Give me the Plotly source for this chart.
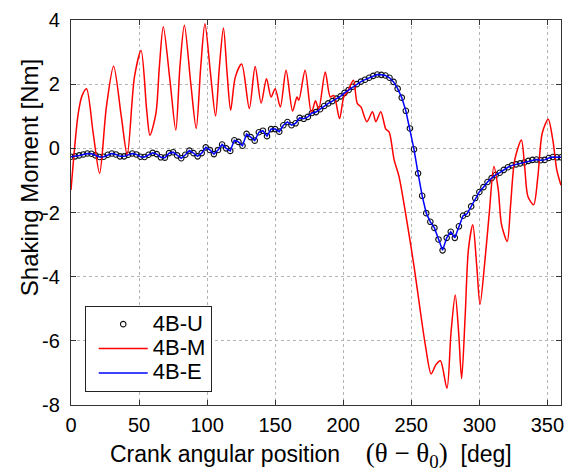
import plotly.graph_objects as go

# ---- data ----
# 4B-M (red): angle [deg], shaking moment [Nm]
m_deg = [0, 5.3, 8.2, 11.4, 16.3, 21, 26, 31.3, 37, 41.3, 46.6, 51.5, 55.6, 58, 62.4, 64.9, 67.8,
         72.7, 77, 80, 83.3, 88, 92, 95.3, 98.4, 102.5, 106.2, 109, 112, 114.7, 117.3, 120.7, 125.4,
         131, 135.3, 139.7, 143.6, 147, 150, 153.8, 158, 162.8, 166, 167.4, 172, 176.6, 179.6, 182,
         186.8, 190.5, 193.1, 197.3, 200.4, 203, 207.5, 210.3, 213, 217.4, 221.5, 224, 227.6, 231.3,
         233.7, 237.4, 241, 247, 252, 256.8, 260.4, 264.6, 268, 271.4, 276.2, 279.2, 282.3, 284.8,
         287, 289.6, 292, 295.2, 298.1, 300.5, 304.2, 307.3, 310.7, 313.9, 316.3, 320.5, 322.9, 326,
         330.9, 333.3, 335.7, 339.9, 343, 346.2, 350.6, 354, 356.9, 360]
m_val = [-1.3, 1.08, 1.65, 1.86, 0.47, -0.78, 1.29, 2.56, 0.98, -0.21, 2.22, 3.05, 1.19, 0.41, 1.09, 2.53, 3.79,
         2.12, 0.57, 2.53, 3.84, 2.02, 0.62, 2.53, 3.88, 2.33, 1.01, 2.53, 3.75, 2.33, 1.19, 2.22, 2.63,
         1.24, 2.55, 1.41, 2.17, 1.6, 1.86, 1.29, 2.43, 1.16, 1.6, 1.5, 2.43, 1.09, 1.48, 1.22,
         2.38, 1.6, 1.65, 0.93, 1.6, 1.75, 2.12, 1.4, 1.29, 0.83, 1.14, 0.83, 1.14, 0.6,
         0.51, -0.36, -0.88, -2.33, -3.67, -5.12, -6.15, -7.03, -6.75, -6.62, -7.48, -5.74, -4.57, -5.74,
         -7.18, -5.22, -3.15, -2.38, -3.67, -4.86, -3.46, -2.02, -0.57, -1.29, -2.38, -2.9, -1.81, -0.36,
         0.26, -0.57, -1.5, -1.76, -0.88, 0.47, 0.91, 0.26, -0.67, -1.15]

# 4B-U (markers) and 4B-E (blue): sampled every 3 deg
u_deg = list(range(0, 361, 3))
u_val = [-0.26, -0.25, -0.22, -0.19, -0.16, -0.17, -0.22, -0.27, -0.26, -0.2, -0.16, -0.19, -0.25,
         -0.25, -0.2, -0.16, -0.19, -0.26, -0.27, -0.2, -0.14, -0.18, -0.28, -0.29, -0.15, -0.12,
         -0.22, -0.31, -0.2, -0.07, -0.15, -0.25, -0.15, 0.03, -0.05, -0.18, -0.05, 0.12, 0.0,
         -0.08, 0.25, 0.2, 0.08, 0.45, 0.35, 0.24, 0.5, 0.55, 0.38, 0.6, 0.6, 0.52, 0.72, 0.82,
         0.72, 0.78, 0.95, 0.92, 0.98, 1.1, 1.13, 1.22, 1.32, 1.4, 1.47, 1.55, 1.62, 1.73, 1.82,
         1.92, 2.0, 2.08, 2.14, 2.2, 2.26, 2.3, 2.29, 2.27, 2.2, 2.07, 1.86, 1.58, 1.17, 0.62,
         -0.03, -0.78, -1.48, -2.02, -2.29, -2.48, -2.84, -3.18, -2.79, -2.6, -2.79, -2.43, -2.1,
         -2.04, -1.81, -1.55, -1.36, -1.21, -1.05, -0.93, -0.83, -0.76, -0.67, -0.59, -0.53, -0.5,
         -0.47, -0.44, -0.39, -0.36, -0.35, -0.37, -0.36, -0.3, -0.27, -0.28, -0.28]
e_deg = u_deg
e_val = list(u_val)

x_ticks = [0, 50, 100, 150, 200, 250, 300, 350]
y_ticks = [-8, -6, -4, -2, 0, 2, 4]
y_ticklabels = ["-8", "-6", "-4", "-2", "0", "2", "4"]
legend_names = ["4B-U", "4B-M", "4B-E"]

FONT = "Liberation Sans, Arial, sans-serif"
SERIF = "Liberation Serif, Times New Roman, serif"
NB = "\u00a0"


def leg(name):
    return "<span style='font-size:22px'>" + name + "</span>"


fig = go.Figure()
fig.add_trace(go.Scatter(x=u_deg, y=u_val, mode="markers", name=leg(legend_names[0]),
                         marker=dict(symbol="circle-open", size=5.5, color="#111111",
                                     line=dict(width=1.1, color="#111111"))))
fig.add_trace(go.Scatter(x=m_deg, y=m_val, mode="lines", name=leg(legend_names[1]),
                         line=dict(color="#ff0000", width=1.5, shape="spline", smoothing=0.8)))
fig.add_trace(go.Scatter(x=e_deg, y=e_val, mode="lines", name=leg(legend_names[2]),
                         line=dict(color="#0000ff", width=1.5)))

axis_common = dict(showline=True, linecolor="#333333", linewidth=1.2, mirror="allticks",
                   ticks="inside", ticklen=5, tickcolor="#333333",
                   showgrid=True, gridcolor="#b4b4b4", griddash="dot", gridwidth=1,
                   zeroline=False, tickfont=dict(family=FONT, size=20, color="black"))

xtitle = ("Crank angular position" + NB * 4 +
          "<span style='font-family:" + SERIF + ";font-size:27px'>(θ − θ<sub>0</sub>)</span>" +
          NB * 2 + "[deg]")

fig.update_layout(
    width=571, height=475,
    margin=dict(l=71, r=7, t=20, b=70),
    paper_bgcolor="white", plot_bgcolor="white",
    font=dict(family=FONT, color="black"),
    xaxis=dict(range=[0, 360], tickvals=x_ticks, ticklabelstandoff=2, **axis_common),
    yaxis=dict(range=[-8, 4], tickvals=y_ticks, ticktext=y_ticklabels,
               ticklabelstandoff=6, **axis_common),
    legend=dict(x=0.028, y=0.034, xanchor="left", yanchor="bottom",
                bordercolor="#222222", borderwidth=1, bgcolor="white",
                font=dict(family=FONT, size=16.5), itemwidth=49, indentation=8,
                tracegroupgap=0),
    showlegend=True,
    annotations=[
        dict(text=xtitle, xref="paper", yref="paper", x=0.49, y=-0.13,
             xanchor="center", yanchor="middle", showarrow=False,
             font=dict(family=FONT, size=23, color="black")),
        dict(text="Shaking Moment [Nm]", xref="paper", yref="paper", x=-0.083, y=0.59,
             xanchor="center", yanchor="middle", showarrow=False, textangle=-90,
             font=dict(family=FONT, size=24, color="black")),
    ],
)

fig.write_html("out.html")
